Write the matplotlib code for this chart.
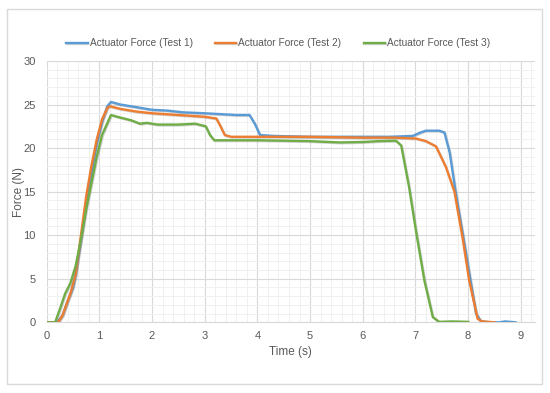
import matplotlib.pyplot as plt
import matplotlib.patheffects as pe
from matplotlib.patches import Rectangle
from matplotlib.ticker import MultipleLocator

# ---------------------------------------------------------------
# Data
# ---------------------------------------------------------------

t1 = [0, 0.2, 0.3, 0.4, 0.5, 0.55, 0.65, 0.75, 0.85, 0.95, 1.05, 1.15, 1.22,
      1.4, 1.6, 1.8, 2.0, 2.3, 2.6, 3.0, 3.3, 3.6, 3.85, 3.95, 4.05, 4.3,
      5.0, 5.5, 6.0, 6.5, 6.95, 7.1, 7.2, 7.45, 7.55, 7.65, 7.77, 7.96,
      8.15, 8.24, 8.4, 8.6, 8.7, 8.9]
f1 = [0, 0, 0.8, 2.5, 4, 5.5, 9.5, 13.5, 17, 20.5, 23, 24.8, 25.3,
      25.0, 24.8, 24.6, 24.4, 24.3, 24.1, 24.0, 23.9, 23.8, 23.8, 22.8, 21.5, 21.4,
      21.3, 21.3, 21.3, 21.3, 21.4, 21.8, 22.0, 22.0, 21.8, 19.5, 14.7, 7.9,
      1.0, 0.15, 0.0, 0.0, 0.1, 0.0]

t2 = [0, 0.22, 0.3, 0.45, 0.55, 0.65, 0.75, 0.85, 0.95, 1.05, 1.15, 1.2,
      1.4, 1.7, 2.0, 2.5, 3.0, 3.22, 3.3, 3.38, 3.5, 4.0, 5.0, 6.0, 6.6,
      7.01, 7.2, 7.39, 7.58, 7.74, 7.9, 8.02, 8.18, 8.27, 8.5]
f2 = [0, 0, 0.8, 3.3, 5.5, 10, 14.5, 18, 21, 23.3, 24.6, 24.8,
      24.5, 24.2, 24.0, 23.8, 23.6, 23.4, 22.5, 21.5, 21.3, 21.3, 21.3, 21.2, 21.2,
      21.1, 20.8, 20.2, 17.8, 15.0, 9.5, 4.8, 0.4, 0.1, 0.0]

t3 = [0, 0.16, 0.25, 0.35, 0.45, 0.55, 0.65, 0.75, 0.85, 0.95, 1.05, 1.22,
      1.4, 1.6, 1.77, 1.9, 2.1, 2.5, 2.82, 3.02, 3.1, 3.18, 3.5, 4.0, 5.0,
      5.56, 6.0, 6.3, 6.63, 6.73, 6.88, 7.01, 7.17, 7.33, 7.45, 7.7, 8.0]
f3 = [0, 0, 1.5, 3.3, 4.5, 6.5, 9.5, 13, 16, 19, 21.5, 23.8,
      23.5, 23.2, 22.8, 22.9, 22.7, 22.7, 22.8, 22.5, 21.5, 20.9, 20.9, 20.9, 20.8,
      20.65, 20.7, 20.8, 20.85, 20.3, 15.5, 10.5, 4.8, 0.6, 0.05, 0.1, 0.05]

labels = ["Actuator Force (Test 1)", "Actuator Force (Test 2)", "Actuator Force (Test 3)"]
colors = ["#5B9BD5", "#ED7D31", "#70AD47"]

# ---------------------------------------------------------------
# Plot
# ---------------------------------------------------------------

plt.rcParams["font.family"] = ["Liberation Sans", "DejaVu Sans"]
text_col = "#595959"

fig = plt.figure(figsize=(5.5, 3.93), dpi=100)
fig.patches.append(Rectangle((6.5 / 550, 1 - 384 / 393), 535.5 / 550, 375 / 393,
                             transform=fig.transFigure, fill=False,
                             edgecolor="#d9d9d9", linewidth=1.0))

ax = fig.add_axes([46.7 / 550, 1 - 322.3 / 393, (535 - 46.7) / 550, (322.3 - 61) / 393])

shadow = [pe.SimpleLineShadow(offset=(0.6, -0.6), shadow_color="gray", alpha=0.35), pe.Normal()]
for t, f, lab, c in zip([t1, t2, t3], [f1, f2, f3], labels, colors):
    ax.plot(t, f, color=c, linewidth=1.7, label=lab, path_effects=shadow,
            solid_joinstyle="round", zorder=3)

ax.set_xlim(0, 9.27)
ax.set_ylim(0, 30)
ax.xaxis.set_major_locator(MultipleLocator(1))
ax.xaxis.set_minor_locator(MultipleLocator(0.2))
ax.yaxis.set_major_locator(MultipleLocator(5))
ax.yaxis.set_minor_locator(MultipleLocator(1))
ax.grid(True, which="major", color="#d9d9d9", linewidth=0.8)
ax.grid(True, which="minor", color="#f0f0f0", linewidth=0.7)
ax.set_axisbelow(True)

for s in ["top", "right", "left"]:
    ax.spines[s].set_visible(False)
ax.spines["bottom"].set_color("#d9d9d9")

ax.tick_params(which="both", length=0, colors=text_col, labelsize=8)
ax.tick_params(axis="x", pad=6)
ax.tick_params(axis="y", pad=8)

ax.set_xlabel("Time (s)", color=text_col, fontsize=8.5, labelpad=4)
ax.set_ylabel("Force (N)", color=text_col, fontsize=8.5)
ax.yaxis.set_label_coords(-0.045, 0.5)

leg = ax.legend(loc="center", bbox_to_anchor=(0.474, 1.067), ncol=3, frameon=False,
                fontsize=7.3, handlelength=2.1, handletextpad=0.2, columnspacing=2.2)
for txt in leg.get_texts():
    txt.set_color(text_col)

fig.savefig("out.png", dpi=100)
